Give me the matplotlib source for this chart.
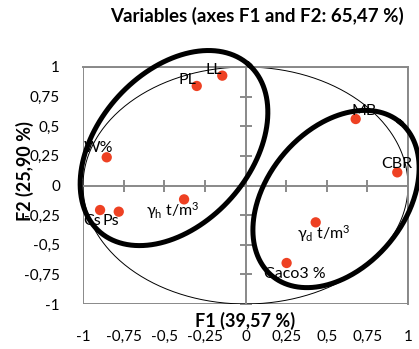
import numpy as np
import matplotlib
matplotlib.use("Agg")
import matplotlib.pyplot as plt
from matplotlib.patches import Rectangle

plt.rcParams["font.family"] = ["Lato", "DejaVu Sans"]
plt.rcParams["mathtext.fontset"] = "custom"
plt.rcParams["mathtext.rm"] = "Lato"
plt.rcParams["mathtext.it"] = "Lato"

# Data: variable coordinates on F1 / F2
labels = ["PL", "LL", "W%", "Cs", "Ps", r"$\gamma_\mathregular{h}$ t/m$^\mathregular{3}$",
          "MB", "CBR", r"$\gamma_\mathregular{d}$ t/m$^\mathregular{3}$", "Caco3 %"]
f1 = [-0.30, -0.143, -0.854, -0.895, -0.78, -0.378, 0.678, 0.934, 0.432, 0.253]
f2 = [0.84, 0.927, 0.238, -0.207, -0.221, -0.117, 0.561, 0.111, -0.311, -0.654]
# label offsets (points)
lab_dx = [-7, -6, -6, -6, -6, -8, 6, 0, 6, 6]
lab_dy = [4, 4, 7, -8, -7, -8, 6, 6, -8, -8]

ticks = [-1, -0.75, -0.5, -0.25, 0, 0.25, 0.5, 0.75, 1]
tick_labels = ["-1", "-0,75", "-0,5", "-0,25", "0", "0,25", "0,5", "0,75", "1"]

# Hand drawn groups: center (data), semi axes (px), angle (deg)
groups = [(-0.44, 0.316, 112, 76, 48.0), (0.557, -0.114, 100, 69, 50.2)]

W, H = 419, 349
fig = plt.figure(figsize=(W / 100, H / 100), dpi=100)
pos = [83 / W, 1 - 304 / H, 325 / W, 237 / H]
ax = fig.add_axes(pos)
gray = "#898989"

ax.set_xlim(-1, 1)
ax.set_ylim(-1, 1)
for s in ["top", "right"]:
    ax.spines[s].set_color(gray)
    ax.spines[s].set_linewidth(1.4)
ax.spines["left"].set_position(("data", 0))
ax.spines["bottom"].set_position(("data", 0))
for s in ["left", "bottom"]:
    ax.spines[s].set_color(gray)
    ax.spines[s].set_linewidth(1.4)
ax.add_patch(Rectangle((0, 0), 1, 1, transform=ax.transAxes, fill=False,
                       ec=gray, lw=1.4, zorder=1))
ax.set_xticks(ticks)
ax.set_yticks(ticks)
ax.tick_params(direction="inout", length=8, width=1.4, color=gray,
               labelbottom=False, labelleft=False)

# tick labels on an overlay axes
ax2 = fig.add_axes(pos, frameon=False)
ax2.set_xlim(-1, 1)
ax2.set_ylim(-1, 1)
ax2.set_xticks(ticks, tick_labels)
ax2.set_yticks(ticks, tick_labels)
ax2.tick_params(length=0, labelsize=11, colors="black")
ax2.tick_params(axis="x", pad=18.5)
ax2.tick_params(axis="y", pad=16.5)
ax2.patch.set_visible(False)

# correlation circle
t = np.linspace(0, 2 * np.pi, 400)
ax.plot(np.cos(t), np.sin(t), color="black", lw=0.7, zorder=2)

ax.scatter(f1, f2, s=55, color="#EE4123", zorder=3, edgecolors="none")
for i, lab in enumerate(labels):
    ax.annotate(lab, (f1[i], f2[i]), xytext=(lab_dx[i], lab_dy[i]),
                textcoords="offset points", ha="center", va="center",
                fontsize=11.5, zorder=4)

# group ellipses
px_x = pos[2] * W / 2
px_y = pos[3] * H / 2
for cx, cy, a, b, ang in groups:
    th = np.deg2rad(ang)
    u = a * np.cos(t) * np.cos(th) - b * np.sin(t) * np.sin(th)
    v = a * np.cos(t) * np.sin(th) + b * np.sin(t) * np.cos(th)
    ax.plot(cx + u / px_x, cy + v / px_y, color="black", lw=3.6,
            zorder=5, clip_on=False)

ax.text(0.5, -0.07, "F1 (39,57 %)", transform=ax.transAxes, ha="center",
        va="center", fontsize=13, fontweight="bold")
ax.text((25 - 83) / 325, (304 - 171) / 237, "F2 (25,90 %)", transform=ax.transAxes,
        ha="center", va="center", rotation=90, fontsize=13, fontweight="bold")
fig.text(257 / W, 1 - 16 / H, "Variables (axes F1 and F2: 65,47 %)",
         ha="center", va="center", fontsize=13.5, fontweight="bold")

fig.savefig("out.png", dpi=100)
